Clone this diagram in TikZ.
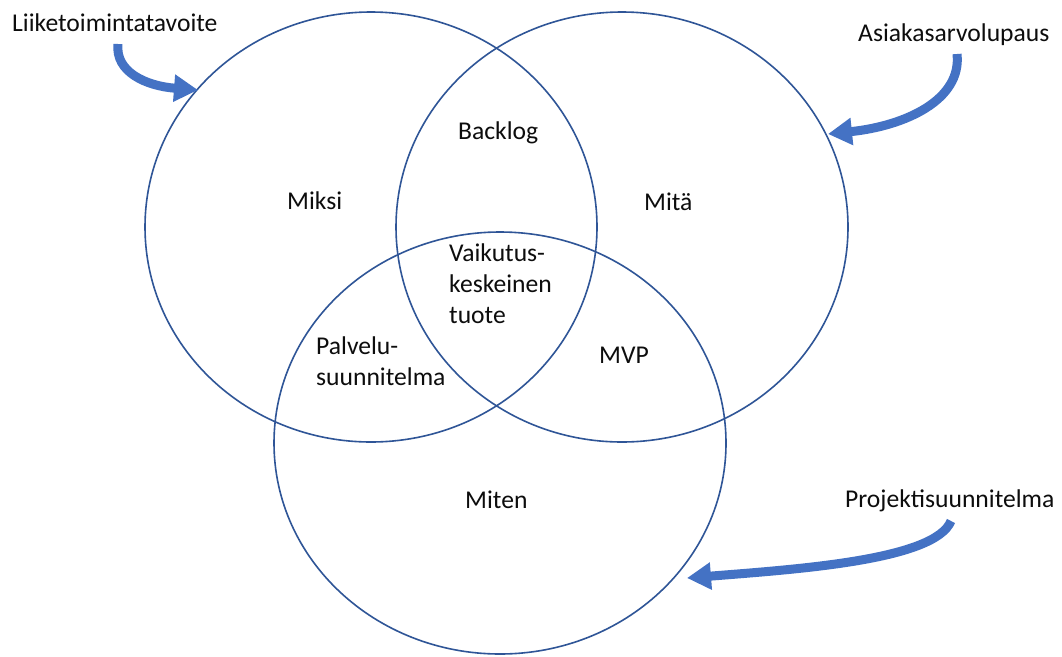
\documentclass[tikz,border=0pt]{standalone}
\usepackage{fontspec}
\setmainfont{Carlito}
\usetikzlibrary{shapes.geometric,arrows.meta}
\definecolor{ringblue}{HTML}{2F5597}
\definecolor{arrowblue}{HTML}{4472C4}
\definecolor{txt}{HTML}{0D0D0D}
\begin{document}
\begin{tikzpicture}[x=1pt,y=-1pt,
  ring/.style={ellipse,draw=ringblue,line width=1.6pt,inner sep=0pt,minimum width=452pt,minimum height=430pt},
  lbl/.style={font=\fontsize{25.6}{31}\selectfont,text=txt,inner sep=0pt,anchor=base west,align=left},
  bigarrow/.style={draw=arrowblue,line width=9pt,-{Triangle[length=24pt,width=26pt]}}]
\useasboundingbox (0,0) rectangle (1062,656);
\fill[white] (0,0) rectangle (1062,656);
% rings
\node[ring] (why) at (371,227) {};
\node[ring] (what) at (622,227) {};
\node[ring,minimum height=422pt] (how) at (500,443) {};
% labels
\node[lbl] (goal) at (12,31) {Liiketoimintatavoite};
\node[lbl] (value) at (858,41) {Asiakasarvolupaus};
\node[lbl] (plan) at (845,507) {Projektisuunnitelma};
\node[lbl] (backlog) at (458,139) {Backlog};
\node[lbl] (miksi) at (287,209) {Miksi};
\node[lbl] (mita) at (644,210) {Mitä};
\node[lbl] (miten) at (465,508) {Miten};
\node[lbl] (mvp) at (599,363) {MVP};
\node[lbl] (vaik) at (449,323) {Vaikutus-\\keskeinen\\tuote};
\node[lbl] (palv) at (316,385) {Palvelu-\\suunnitelma};
% arrows
\coordinate (a1s) at (118,44);
\coordinate (a1e) at (198,90);
\coordinate (a2s) at (957,54);
\coordinate (a2e) at (828,134);
\coordinate (a3s) at (951,521);
\coordinate (a3e) at (687,578);
\draw[bigarrow] (a1s) .. controls (115,72) and (146,86) .. (a1e);
\draw[bigarrow] (a2s) .. controls (962,100) and (905,126) .. (a2e);
\draw[bigarrow] (a3s) .. controls (935,560) and (800,569) .. (a3e);
\end{tikzpicture}
\end{document}
